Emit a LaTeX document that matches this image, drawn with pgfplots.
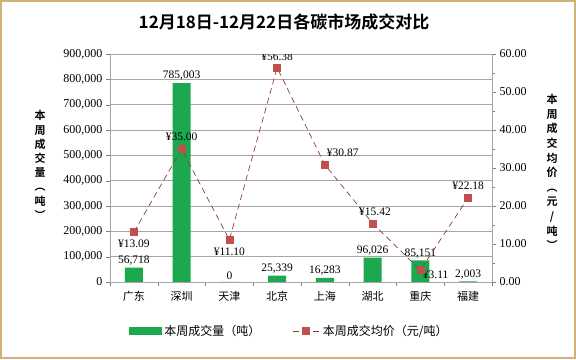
\documentclass[border=0pt]{standalone}
\usepackage{pgfplots}
\pgfplotsset{compat=1.18}
\usepackage{fontspec}
\setmainfont{Liberation Serif}
\newfontfamily\cjk{Noto Sans CJK SC}
\newfontfamily\cjkb{Noto Sans CJK SC Bold}
\definecolor{bargreen}{HTML}{1BA84F}
\definecolor{linered}{HTML}{C0504D}
\definecolor{frametan}{HTML}{D2B07A}
\begin{document}
\begin{tikzpicture}[x=1pt,y=1pt]
\draw[frametan, line width=2pt] (1,1) rectangle (575,358);
\node[font=\cjkb\fontsize{17}{20}\selectfont] at (284,337) {12月18日-12月22日各碳市场成交对比};
\node[font=\cjkb\fontsize{11}{14.2}\selectfont, align=center] at (40,194) {本\\周\\成\\交\\量\\︵\\吨\\︶};
\node[font=\cjkb\fontsize{11}{14.6}\selectfont, align=center] at (552,187) {本\\周\\成\\交\\均\\价\\︵\\元\\/\\吨\\︶};
\begin{axis}[
  at={(110pt,77pt)}, anchor=south west,
  scale only axis, width=382pt, height=228pt,
  xmin=-0.5, xmax=7.5, ymin=0, ymax=900000,
  xtick={0,...,7},
  xticklabels={广东,深圳,天津,北京,上海,湖北,重庆,福建},
  x tick label style={font=\cjk\fontsize{11}{13}\selectfont, yshift=-2pt},
  major x tick style={draw=none},
  minor xtick={-0.5,0.5,...,7.5},
  minor x tick style={gray},
  ytick={0,100000,...,900000},
  axis y line*=left,
  axis x line*=bottom,
  axis line style={gray!70},
  tick align=outside,
  major tick length=4pt, minor tick length=4pt,
  y tick style={gray},
  ymajorgrids, grid style={gray!70, line width=0.6pt},
  scaled y ticks=false,
  y tick label style={/pgf/number format/.cd, fixed, 1000 sep={,}, assume math mode=true},
  tick label style={font=\fontsize{12}{14}\selectfont},
  ybar, bar width=18pt,
  nodes near coords={\pgfmathprintnumber[fixed, 1000 sep={,}, assume math mode=true]{\pgfplotspointmeta}},
  every node near coord/.append style={font=\fontsize{11.5}{13}\selectfont, yshift=-1pt},
  legend columns=2,
  legend style={draw=none, at={(0.47,-0.215)}, anchor=center, font=\cjk\fontsize{12}{14}\selectfont, /tikz/every even column/.append style={column sep=30pt}},
]
\addplot[fill=bargreen, draw=none, area legend, legend image code/.code={\fill[bargreen] (0pt,-4pt) rectangle (33pt,4pt);}] coordinates {(0,56718) (1,785003) (2,0) (3,25339) (4,16283) (5,96026) (6,85151) (7,2003)};
\addlegendentry{本周成交量（吨）}
\addlegendimage{legend image code/.code={\draw[linered!70!black, dash pattern=on 6pt off 4pt] (0pt,0pt) -- (28pt,0pt); \fill[linered] (10pt,-3.5pt) rectangle (17pt,3.5pt);}}
\addlegendentry{本周成交均价（元/吨）}
\end{axis}
\begin{axis}[
  at={(110pt,77pt)}, anchor=south west,
  scale only axis, width=382pt, height=228pt,
  xmin=-0.5, xmax=7.5, ymin=0, ymax=60,
  axis x line=none,
  axis y line*=right,
  axis line style={gray!70},
  ytick={0,10,...,60},
  minor ytick={5,15,...,55},
  tick align=outside,
  major tick length=4pt, minor tick length=3pt,
  y tick style={gray},
  y tick label style={/pgf/number format/.cd, fixed, fixed zerofill, precision=2, assume math mode=true},
  tick label style={font=\fontsize{12}{14}\selectfont},
]
\addplot[linered!75!black, dash pattern=on 6pt off 4pt, line width=0.7pt, mark=square*, mark size=3.5pt, mark options={solid, fill=linered, draw=linered}] coordinates {(0,13.09) (1,35.00) (2,11.10) (3,56.38) (4,30.87) (5,15.42) (6,3.11) (7,22.18)};
\begin{scope}[every node/.style={font=\fontsize{11.5}{13}\selectfont}]
\node[anchor=north] at (axis cs:0,12.0) {¥13.09};
\node[anchor=south] at (axis cs:1,36.3) {¥35.00};
\node[anchor=north] at (axis cs:2,9.8) {¥11.10};
\node[anchor=south] at (axis cs:3,57.2) {¥56.38};
\node[anchor=south west] at (axis cs:3.97,32.0) {¥30.87};
\node[anchor=south] at (axis cs:5.05,16.5) {¥15.42};
\node[anchor=west] at (axis cs:5.98,2.0) {¥3.11};
\node[anchor=south] at (axis cs:7,23.3) {¥22.18};
\end{scope}
\end{axis}
\end{tikzpicture}
\end{document}
